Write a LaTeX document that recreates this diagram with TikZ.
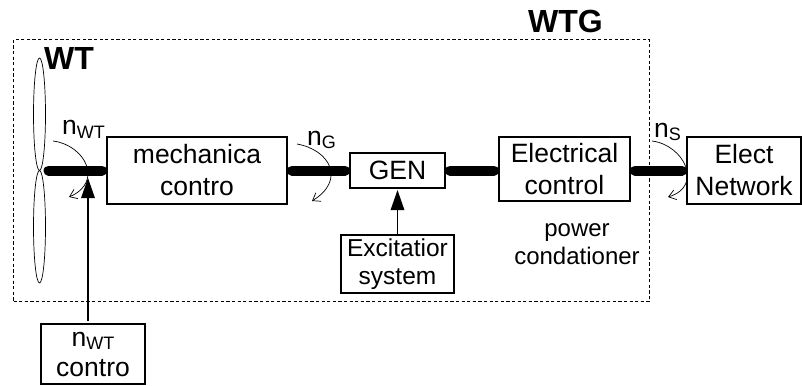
\documentclass[tikz,border=0pt]{standalone}
\usepackage{fontspec}
\setmainfont{Liberation Sans}
\usetikzlibrary{positioning,arrows.meta,shapes.geometric}
\newcommand{\speedsub}[1]{\raisebox{-3pt}{\fontsize{18}{18}\selectfont #1}}

\begin{document}
\begin{tikzpicture}[
  x=1pt, y=-1pt,
  box/.style={draw, line width=1.4pt, fill=white, outer sep=0pt, inner sep=0pt, align=center, font=\fontsize{26.5}{32}\selectfont},
  label/.style={inner sep=0pt, anchor=base west, font=\fontsize{26.5}{32}\selectfont},
  title/.style={inner sep=0pt, anchor=base west, font=\fontsize{32}{36}\selectfont\bfseries},
  blade/.style={draw, ellipse, line width=0.7pt, minimum width=12pt, minimum height=112.5pt, inner sep=0pt, outer sep=0pt},
  shaft/.style={line width=10pt, line cap=round, shorten <=5pt, shorten >=5pt},
  rot/.style={-{Straight Barb[length=7pt,width=10pt]}, line width=0.7pt},
  signal/.style={-{Triangle[length=20pt,width=13.5pt]}, line width=1.5pt}
]
  \useasboundingbox (0,0) rectangle (802,385);
  % frame of the WTG
  \node[draw, dashed, dash pattern=on 3.2pt off 2.4pt, line width=0.7pt, minimum width=636pt, minimum height=262pt, inner sep=0pt, outer sep=0pt] (wtg) at (331.5,170.5) {};
  \node[title] (wtglabel) at (528,33) {WTG};
  \node[title] (wtlabel) at (44,70) {WT};
  % rotor
  \coordinate (hub) at (39.5,170.5);
  \node[blade, above=0pt of hub] (upblade) {};
  \node[blade, below=0pt of hub] (lowblade) {};
  % drive train
  \node[box, minimum width=180pt, minimum height=67pt] (mech) at (197,170.5) {mechanica\\contro};
  \node[box, minimum width=95pt, minimum height=35pt, right=63pt of mech] (gen) {GEN};
  \node[box, minimum width=131pt, minimum height=64pt, right=54pt of gen, yshift=1.5pt] (elec) {Electrical\\control};
  \node[box, minimum width=114pt, minimum height=67pt, right=57pt of elec, yshift=-1.5pt] (grid) {Elect\\Network};
  \node[box, minimum width=113pt, minimum height=58pt, below=47pt of gen, font=\fontsize{24.5}{28}\selectfont] (exc) {Excitatior\\system};
  \node[box, minimum width=104pt, minimum height=60pt, font=\fontsize{26.5}{30}\selectfont] (nctrl) at (93,354) {n\speedsub{WT}\\contro};
  \node[inner sep=0pt, align=center, font=\fontsize{24}{28}\selectfont] (power) at (577,244) {power\\condationer};
  % shafts
  \draw[shaft, shorten <=0pt] (hub) ++(9,0) -- (mech.west);
  \draw[shaft] (mech) -- (gen);
  \draw[shaft] (gen.east) -- (gen.east -| elec.west);
  \draw[shaft] (grid.west -| elec.east) -- (grid.west);
  % speed labels
  \node[label] (nwt) at (62,135) {n\speedsub{WT}};
  \node[label] (ng) at (307,145) {n\speedsub{G}};
  \node[label] (ns) at (654,137) {n\speedsub{S}};
  \coordinate (wtfrom) at (53,141);
  \coordinate (wtto) at (69,197);
  \coordinate (gfrom) at (297,144);
  \coordinate (gto) at (312,201);
  \coordinate (sfrom) at (652,141);
  \coordinate (sto) at (668,197);
  \draw[rot] (wtfrom) .. controls (85,145) and (104,182) .. (wtto);
  \draw[rot] (gfrom) .. controls (330,150) and (346,180) .. (gto);
  \draw[rot] (sfrom) .. controls (684,145) and (704,186) .. (sto);
  % control signals
  \coordinate (nctrltip) at (88,178);
  \draw[signal, shorten <=3pt] (nctrl.north -| nctrltip) -- (nctrltip);
  \draw[signal, shorten >=2pt] (exc) -- (gen);
\end{tikzpicture}
\end{document}
